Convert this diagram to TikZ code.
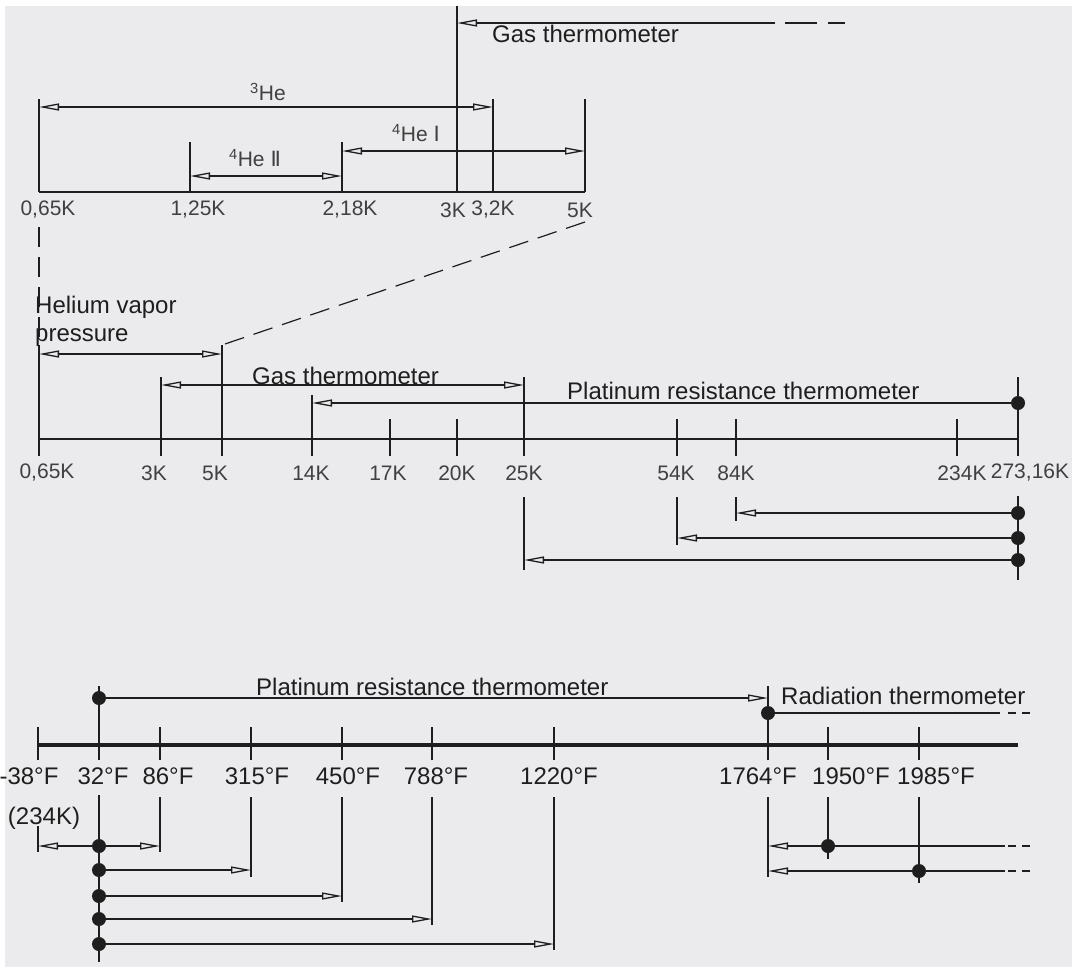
\documentclass[tikz,border=0pt]{standalone}
\usepackage{fontspec}
\setmainfont{Liberation Sans}
\newfontfamily\romfont{DejaVu Sans}
\usetikzlibrary{arrows.meta,calc}
\definecolor{fondo}{HTML}{EBEBED}
\definecolor{tinta}{HTML}{1E1E1E}
\tikzset{
  punta/.tip     = {Triangle[open, length=20pt, width=7pt]},
  marca/.style   = {line width=2.6pt, draw=tinta},
  eje/.style     = {line width=1.8pt, draw=tinta},
  ejegrueso/.style = {line width=3.4pt, draw=tinta},
  guia/.style    = {line width=1.3pt, draw=tinta},
  flecha/.style  = {guia, -punta},
  flechas/.style = {guia, punta-punta},
  trazos/.style  = {line width=1.2pt, draw=tinta, dash pattern=on 20pt off 10pt},
  colas/.style   = {line width=1.2pt, draw=tinta, dash pattern=on 8pt off 6pt},
  punto/.style   = {circle, fill=tinta, inner sep=0pt, minimum size=14pt},
  cifra/.style   = {inner sep=0pt, text=tinta!85, font=\fontsize{21}{24}\selectfont},
  grado/.style   = {inner sep=0pt, text=tinta, font=\fontsize{24}{27}\selectfont},
  texto/.style   = {inner sep=0pt, text=tinta, font=\fontsize{24}{28}\selectfont},
}
\begin{document}
\begin{tikzpicture}[x=1pt, y=-1pt]
    \useasboundingbox (0,0) rectangle (1084,967);
    \fill[fondo] (5,6) rectangle (1072,967);

    % --- escala de helio (arriba)
    \foreach \n/\x/\t/\lx/\lab in {a/39/99/48/{0,65K}, b/190/142/198/{1,25K},
        c/342/142/350/{2,18K}, d/457/6/453/{3K}, e/493/99/493/{3,2K}, f/585/99/580/{5K}}{
      \coordinate (s\n) at (\x,192);
      \draw[marca] (\x,\t) -- (s\n);
      \node[cifra] (ls\n) at (\lx,210) {\lab};
    }
    \draw[eje] (sa) -- (sf);

    \draw[flechas] (sa |- 0,107) -- (se |- 0,107);
    \draw[flechas] (sb |- 0,176) -- (sc |- 0,176);
    \draw[flechas] (sc |- 0,151) -- (sf |- 0,151);
    \node[cifra] (he3)  at (268,92)  {\textsuperscript{3}He};
    \node[cifra] (he4b) at (255,158) {\textsuperscript{4}He {\romfont Ⅱ}};
    \node[cifra] (he4a) at (416,133) {\textsuperscript{4}He {\romfont Ⅰ}};

    \coordinate (gasfin) at (775,23);
    \coordinate (gasa) at (785,23);
    \coordinate (gasb) at (845,23);
    \draw[flecha] (gasfin) -- (sd |- gasfin);
    \draw[line width=1.2pt, draw=tinta, dash pattern=on 32pt off 11pt] (gasa) -- (gasb);
    \node[texto, anchor=base west] (gastop) at (492,42) {Gas thermometer};

    % --- lineas de ampliacion
    \draw[trazos] (sa |- 0,227) -- (39,345);
    \draw[trazos] (sf |- 0,222) -- (222,345);

    % --- escala en kelvin
    \foreach \n/\x/\t/\lx/\lab in {a/39/345/47/{0,65K}, b/161/377/154/{3K}, c/222/345/215/{5K},
        d/312/395/311/{14K}, e/390/419/388/{17K}, f/457/419/457/{20K}, g/524/377/524/{25K},
        h/677/419/676/{54K}, i/736/419/736/{84K}, j/957/419/962/{234K}, k/1018/377/1030/{273,16K}}{
      \coordinate (m\n) at (\x,439);
      \draw[marca] (\x,\t) -- (\x,456);
      \node[cifra] (lm\n) at (\lx,473) {\lab};
    }
    \draw[eje, line width=1.5pt] (ma) -- (mk);

    \draw[flechas] (ma |- 0,354) -- (mc |- 0,354);
    \node[texto, anchor=north west, align=left] (hvp) at (35,295.5) {Helium vapor\\pressure};
    \draw[flechas] (mb |- 0,385) -- (mg |- 0,385);
    \node[texto, anchor=base west] (gasmid) at (252,384) {Gas thermometer};
    \node[punto] (p0) at (mk |- 0,403) {};
    \draw[flecha] (p0) -- (md |- p0);
    \node[texto, anchor=base west] (prtk) at (567,399) {Platinum resistance thermometer};

    \draw[marca] (mk |- 0,496) -- (mk |- 0,580);
    \foreach \n/\y/\e [count=\i] in {i/513/521, h/538/545, g/560/570}{
      \node[punto] (p\i) at (1018,\y) {};
      \draw[guia] (m\n |- 0,497) -- (m\n |- 0,\e);
      \draw[flecha] (p\i) -- (m\n |- p\i);
    }

    % --- escala en grados F
    \foreach \n/\x/\lx/\lab in {a/38/29/{-38°F}, b/99/103/{32°F}, c/160/168/{86°F},
        d/251/257/{315°F}, e/342/348/{450°F}, f/432/436/{788°F}, g/554/559/{1220°F},
        h/768/758/{1764°F}, i/828/851/{1950°F}, j/919/936/{1985°F}}{
      \coordinate (f\n) at (\x,745);
      \draw[marca] (\x,727) -- (\x,760);
      \node[grado] (lf\n) at (\lx,776) {\lab};
    }
    \coordinate (ffin) at (1018,745);
    \draw[ejegrueso] (fa) -- (ffin);
    \draw[marca] (fb) -- (fb |- 0,686);
    \draw[marca] (fh) -- (fh |- 0,686);

    \node[punto] (r0) at (99,698) {};
    \draw[flecha] (r0) -- (fh |- r0);
    \node[texto, anchor=base west] (prtf) at (256,695) {Platinum resistance thermometer};
    \node[punto] (r1) at (768,713) {};
    \coordinate (radfin) at (1000,713);
    \coordinate (rada) at (1008,713);
    \coordinate (radb) at (1030,713);
    \draw[guia] (r1) -- (radfin);
    \draw[colas] (rada) -- (radb);
    \node[texto, anchor=base west] (rad) at (781,704) {Radiation thermometer};

    \node[grado] (k234) at (44,818) {(234K)};
    \draw[marca] (fb |- 0,795) -- (fb |- 0,962);
    \draw[guia] (fa |- 0,826) -- (fa |- 0,852);
    \foreach \n/\y/\e [count=\i] in {c/846/852, d/870/877, e/896/902, f/919/925, g/944/950}{
      \draw[guia] (f\n |- 0,797) -- (f\n |- 0,\e);
      \node[punto] (d\i) at (99,\y) {};
      \draw[flecha] (d\i) -- (f\n |- d\i);
    }
    \draw[flecha] (d1) -- (fa |- d1);

    \draw[guia] (fh |- 0,797) -- (fh |- 0,877);
    \draw[guia] (fi |- 0,797) -- (fi |- 0,859);
    \draw[guia] (fj |- 0,797) -- (fj |- 0,883);
    \foreach \n/\x/\y [count=\i] in {i/828/846, j/919/871}{
      \node[punto] (e\i) at (\x,\y) {};
      \coordinate (c\i) at (1005,\y);
      \coordinate (ca\i) at (1008,\y);
      \coordinate (cb\i) at (1030,\y);
      \draw[guia] (e\i) -- (c\i);
      \draw[colas] (ca\i) -- (cb\i);
      \draw[flecha] (e\i) -- (fh |- e\i);
    }
\end{tikzpicture}
\end{document}
